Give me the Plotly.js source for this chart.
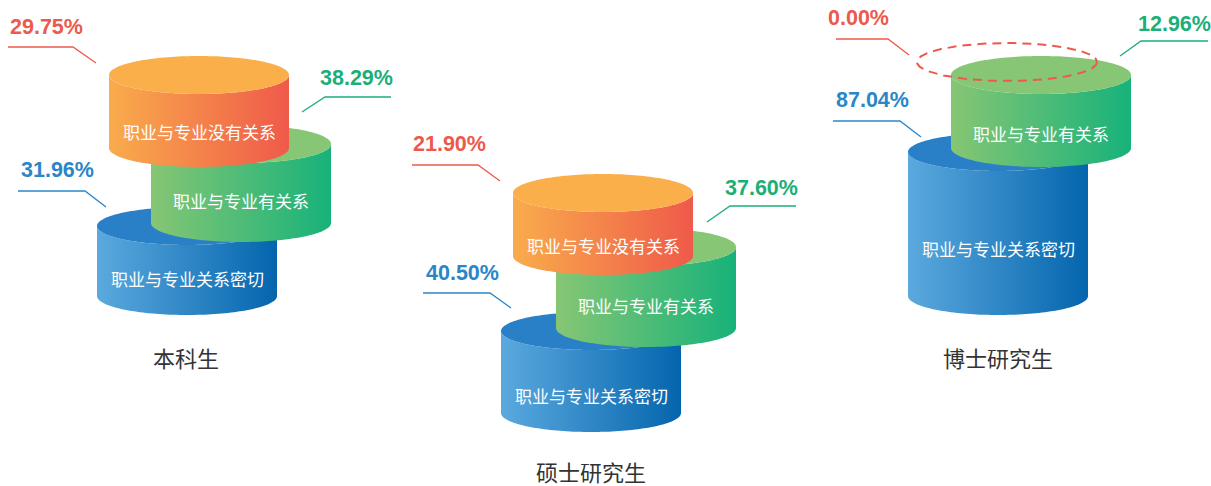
<!DOCTYPE html>
<html>
<head>
<meta charset="utf-8">
<script src="https://cdn.plot.ly/plotly-3.0.1.min.js"></script>
<style>html,body{margin:0;padding:0;background:#fff;}#chart{width:1211px;height:486px;}</style>
</head>
<body>
<div id="chart"></div>
<script>
// ---- data ----
const groups = ['本科生', '硕士研究生', '博士研究生'];
const categories = ['职业与专业关系密切', '职业与专业有关系', '职业与专业没有关系'];
const closeVals = [31.96, 40.50, 87.04];
const relatedVals = [38.29, 37.60, 12.96];
const unrelatedVals = [29.75, 21.90, 0.00];

// ---- styles ----
const seriesStyle = [
  {top: '#2A80C6', left: '#5BA9DE', right: '#0465AD', label: '#2B86C8'},
  {top: '#86C674', left: '#86C674', right: '#17B27A', label: '#1BAF78'},
  {top: '#FAAF4B', left: '#F9AC4C', right: '#EF5A4A', label: '#ED5A4C'}
];

// ---- layout geometry (pixel space) ----
const RX = 90, RY = 19;
const geom = [
  [ {cx:187, top:226, bot:296, ty:278}, {cx:241, top:144, bot:223, ty:200}, {cx:199, top:75, bot:148, ty:131} ],
  [ {cx:591, top:331, bot:413, ty:395}, {cx:646, top:247, bot:328, ty:305}, {cx:603, top:193, bot:256, ty:245} ],
  [ {cx:998, top:152, bot:296, ty:248}, {cx:1041, top:75, bot:148, ty:133}, {cx:1007, top:62, bot:62, ty:0, empty:true} ]
];
const labelPos = [
  [ {x:57, y:170, line:[[18,191],[85,191],[106,207]]}, {x:356, y:78, line:[[302,112],[325,97],[391,97]]}, {x:46, y:27, line:[[8,47],[73,47],[96,63]]} ],
  [ {x:462, y:273, line:[[423,293],[490,293],[511,308]]}, {x:761, y:188, line:[[707,222],[730,206],[796,206]]}, {x:449, y:144, line:[[412,165],[478,165],[500,181]]} ],
  [ {x:872, y:100, line:[[833,121],[900,121],[921,137]]}, {x:1174, y:24, line:[[1120,56],[1141,41],[1208,41]]}, {x:858, y:18, line:[[836,39],[888,39],[909,55]]} ]
];
const groupTitlePos = [{x:186, y:357}, {x:591, y:471}, {x:998, y:357}];

function arc(cx, cy, a0, a1, n) {
  const xs = [], ys = [];
  for (let i = 0; i <= n; i++) {
    const t = a0 + (a1 - a0) * i / n;
    xs.push(cx + RX * Math.cos(t));
    ys.push(cy + RY * Math.sin(t));
  }
  return [xs, ys];
}

const traces = [];
const annotations = [];
const valuesBySeries = [closeVals, relatedVals, unrelatedVals];

for (let g = 0; g < groups.length; g++) {
  for (let s = 0; s < 3; s++) {
    const G = geom[g][s];
    const st = seriesStyle[s];
    const v = valuesBySeries[s][g];
    if (!G.empty) {
      let xs = [G.cx - RX], ys = [G.top];
      const lower = arc(G.cx, G.bot, Math.PI, 0, 80);
      xs = xs.concat(lower[0]); ys = ys.concat(lower[1]);
      const topLower = arc(G.cx, G.top, 0, Math.PI, 80);
      xs = xs.concat(topLower[0]); ys = ys.concat(topLower[1]);
      traces.push({
        type: 'scatter', mode: 'none', x: xs, y: ys, fill: 'toself',
        fillgradient: {type: 'horizontal', colorscale: [[0, st.left], [1, st.right]]},
        hoverinfo: 'skip', showlegend: false
      });
      const full = arc(G.cx, G.top, 0, 2 * Math.PI, 160);
      traces.push({
        type: 'scatter', mode: 'none', x: full[0], y: full[1], fill: 'toself',
        fillcolor: st.top, hoverinfo: 'skip', showlegend: false
      });
      annotations.push({
        x: G.cx, y: G.ty, xref: 'x', yref: 'y', showarrow: false,
        text: categories[s], xanchor: 'center', yanchor: 'middle',
        font: {family: 'Noto Sans CJK SC', size: 17, color: '#ffffff'}
      });
    } else {
      const full = arc(G.cx, G.top, 0, 2 * Math.PI, 160);
      traces.push({
        type: 'scatter', mode: 'lines', x: full[0], y: full[1],
        line: {color: st.label, width: 2, dash: '9px,6px'},
        hoverinfo: 'skip', showlegend: false
      });
    }
    const L = labelPos[g][s];
    traces.push({
      type: 'scatter', mode: 'lines', x: L.line.map(p => p[0]), y: L.line.map(p => p[1]),
      line: {color: st.label, width: 1.3}, hoverinfo: 'skip', showlegend: false
    });
    annotations.push({
      x: L.x, y: L.y, xref: 'x', yref: 'y', showarrow: false,
      text: v.toFixed(2) + '%', xanchor: 'center', yanchor: 'middle',
      font: {family: 'Liberation Sans, Arial', size: 21.5, color: st.label, weight: 'bold'}
    });
  }
  annotations.push({
    x: groupTitlePos[g].x, y: groupTitlePos[g].y, xref: 'x', yref: 'y', showarrow: false,
    text: groups[g], xanchor: 'center', yanchor: 'middle',
    font: {family: 'Noto Sans CJK SC', size: 22, color: '#333333'}
  });
}

const layout = {
  width: 1211, height: 486,
  margin: {l: 0, r: 0, t: 0, b: 0},
  paper_bgcolor: '#ffffff', plot_bgcolor: '#ffffff',
  xaxis: {range: [0, 1211], visible: false, fixedrange: true},
  yaxis: {range: [486, 0], visible: false, fixedrange: true},
  annotations: annotations,
  showlegend: false
};
Plotly.newPlot('chart', traces, layout, {staticPlot: true, displayModeBar: false});
</script>
</body>
</html>
